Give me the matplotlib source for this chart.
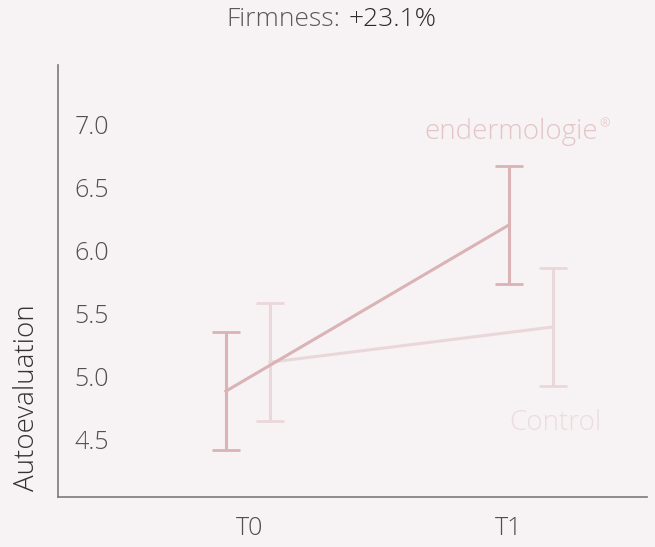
import matplotlib
matplotlib.use("Agg")
import matplotlib.pyplot as plt

# ---- data ----
timepoints = ["T0", "T1"]
endermologie_mean = [4.88, 6.20]
endermologie_err = [0.47, 0.47]
control_mean = [5.11, 5.39]
control_err = [0.47, 0.47]
yticks = [4.5, 5.0, 5.5, 6.0, 6.5, 7.0]
title_label = "Firmness:"
title_value = "+23.1%"
ylabel = "Autoevaluation"

# ---- style ----
BG = "#f7f2f3"
C_END = "#d9b3b6"
C_CTL = "#ead7da"
FONT = ["Open Sans", "DejaVu Sans"]
plt.rcParams["font.family"] = FONT

W, H, DPI = 6.55, 5.47, 100
fig = plt.figure(figsize=(W, H), dpi=DPI, facecolor=BG)
ax = fig.add_axes([58 / 655, 1 - 497 / 547, (647 - 58) / 655, (497 - 65) / 547])
ax.set_facecolor(BG)

x_base = list(range(len(timepoints)))
x_end = [x - 0.093 if i == 0 else x for i, x in enumerate(x_base)]
x_ctl = [x + 0.077 if i == 0 else x + 0.17 for i, x in enumerate(x_base)]

ax.errorbar(x_ctl, control_mean, yerr=control_err, color=C_CTL, lw=2.2,
            capsize=10.4, capthick=2.0, elinewidth=2.2, zorder=2)
ax.errorbar(x_end, endermologie_mean, yerr=endermologie_err, color=C_END, lw=2.2,
            capsize=10.4, capthick=2.0, elinewidth=2.2, zorder=3)

ax.set_xlim(-0.741, 1.533)
ax.set_ylim(4.04, 7.47)
ax.set_xticks(x_base)
ax.set_xticklabels(timepoints)
ax.set_yticks(yticks)
ax.set_yticklabels([f"{v:.1f}" for v in yticks])
ax.tick_params(axis="y", length=0, pad=-36.7, labelsize=18, labelcolor="#505050")
ax.tick_params(axis="x", length=0, pad=14, labelsize=18, labelcolor="#505050")
for lab in ax.get_yticklabels() + ax.get_xticklabels():
    lab.set_fontweight("light")

for s in ["top", "right"]:
    ax.spines[s].set_visible(False)
for s in ["left", "bottom"]:
    ax.spines[s].set_color("#7a7a7a")
    ax.spines[s].set_linewidth(1.2)

ax.text(1.344, 6.94, "endermologie", color="#e3c5c8", fontsize=20,
        ha="right", va="center", fontweight="light")
ax.text(1.35, 7.00, "\u00ae", color="#e3c5c8", fontsize=9,
        ha="left", va="center", fontweight="light")
ax.text(1.178, 4.63, "Control", color="#ecdcdf", fontsize=20,
        ha="center", va="center", fontweight="light")

fig.text(27 / 655, 1 - 398 / 547, ylabel, rotation=90, ha="center", va="center",
         fontsize=20, color="#333333", fontweight="light")

fig.text(340 / 655, 1 - 20 / 547, title_label, ha="right", va="center",
         fontsize=19, color="#5a5a5a", fontweight="light")
fig.text(349 / 655, 1 - 20 / 547, title_value, ha="left", va="center",
         fontsize=19, color="#2a2a2a", fontweight="light")

fig.savefig("out.png", dpi=DPI, facecolor=BG)
